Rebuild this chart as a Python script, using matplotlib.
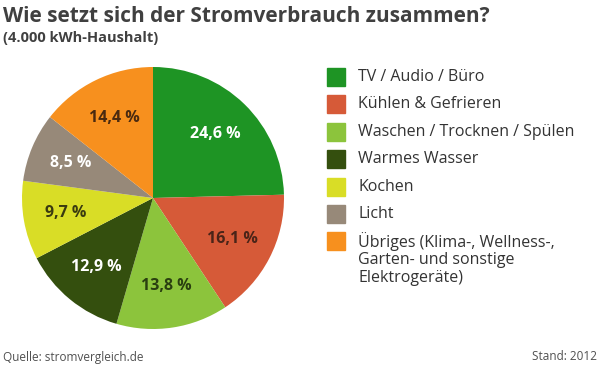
import matplotlib.pyplot as plt
from matplotlib.patches import Rectangle

plt.rcParams['font.family'] = ['Open Sans', 'DejaVu Sans']

categories = ['TV / Audio / Büro', 'Kühlen & Gefrieren', 'Waschen / Trocknen / Spülen',
              'Warmes Wasser', 'Kochen', 'Licht',
              'Übriges (Klima-, Wellness-,\nGarten- und sonstige\nElektrogeräte)']
shares = [24.6, 16.1, 13.8, 12.9, 9.7, 8.5, 14.4]
colors = ['#1e9424', '#d65a38', '#8cc43c', '#344f0e', '#d9dd26', '#978979', '#f7901e']
label_colors = ['white', '#4a2418', '#2a3f10', 'white', '#3a3a10', 'white', '#4a2a10']

W, H = 600, 370
fig = plt.figure(figsize=(6, 3.7), dpi=100)

# pie in pixel box: centre (153, 198), radius 131
cx, cy, r = 153, 198, 131
ax = fig.add_axes([(cx - r) / W, (H - cy - r) / H, 2 * r / W, 2 * r / H])
labels = [f"{v:.1f} %".replace('.', ',') for v in shares]
wedges, texts = ax.pie(shares, colors=colors, startangle=90, counterclock=False,
                       labels=labels, labeldistance=0.68,
                       wedgeprops=dict(linewidth=0))
for t, c in zip(texts, label_colors):
    t.set_color(c)
    t.set_fontsize(11.5)
    t.set_fontweight('bold')
    t.set_ha('center')
    t.set_va('center')
ax.set_xlim(-1, 1)
ax.set_ylim(-1, 1)
ax.set_aspect('equal')
ax.axis('off')

# title
fig.text(3 / W, 1 - 17 / H, 'Wie setzt sich der Stromverbrauch zusammen?',
         fontsize=15, fontweight='bold', color='#404040', va='center', ha='left')
fig.text(3 / W, 1 - 38 / H, '(4.000 kWh-Haushalt)',
         fontsize=10.5, fontweight='bold', color='#404040', va='center', ha='left')

# legend (wrapped lines drawn one by one)
step = 27.4
wrap = 18.5
row_y = 77
for name, col in zip(categories, colors):
    fig.patches.append(Rectangle((327 / W, 1 - (row_y + 9) / H), 18 / W, 18 / H,
                                 transform=fig.transFigure, color=col, figure=fig))
    for i, line in enumerate(name.split('\n')):
        fig.text(358 / W, 1 - (row_y + i * wrap) / H, line, fontsize=11.5,
                 color='#333333', va='center', ha='left')
    row_y += step

# footer
fig.text(3 / W, 1 - 357 / H, 'Quelle: stromvergleich.de', fontsize=8.5,
         color='#505050', va='center', ha='left')
fig.text(597 / W, 1 - 357 / H, 'Stand: 2012', fontsize=8.5,
         color='#505050', va='center', ha='right')

fig.savefig('out.png', dpi=100, facecolor='white')
